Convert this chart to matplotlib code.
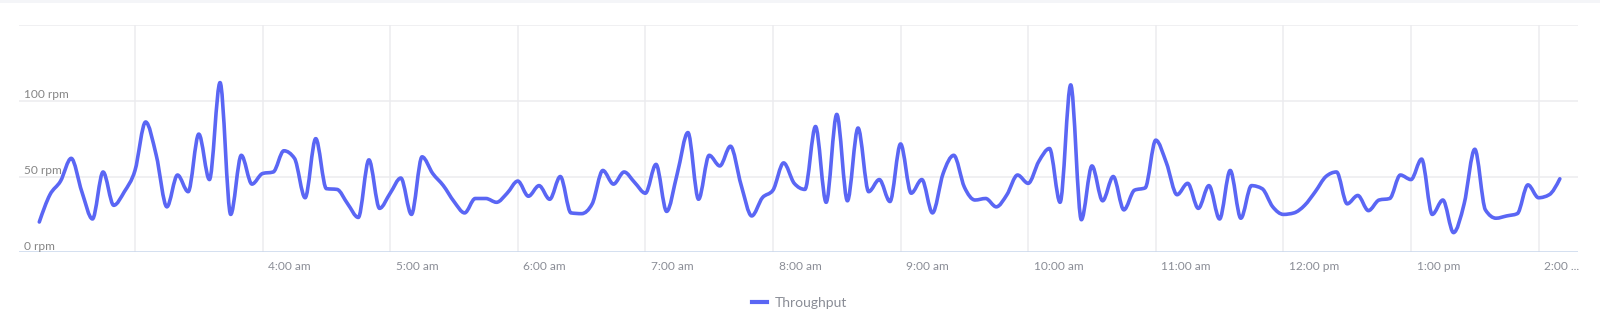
import numpy as np
import pandas as pd
import matplotlib
matplotlib.use("Agg")
import matplotlib.pyplot as plt
from matplotlib.path import Path
from matplotlib.patches import PathPatch, Rectangle
from matplotlib.lines import Line2D
from matplotlib.transforms import ScaledTranslation

# throughput (rpm), one reading every 5 minutes from 2:15 am to 2:10 pm
START = "2024-01-01 02:15"
STEP = "5min"
THROUGHPUT = [
    20, 38, 47, 62, 40, 22, 53, 31, 40,                      # 2:15 - 2:55
    54, 86, 64, 30, 51, 40, 78, 48, 112, 25, 64, 45,         # 3:00 - 3:55
    52, 53, 67, 62, 36, 75, 42, 41.5, 32, 23, 61, 29,        # 4:00 - 4:55
    39, 49, 25, 63, 52, 44, 33.5, 26, 35.5, 35.5, 33, 39,    # 5:00 - 5:55
    47, 37, 44, 35, 50, 26, 25.5, 32, 54, 45, 53, 46,        # 6:00 - 6:55
    39, 58, 27, 52, 79, 35, 64, 57, 70, 44.5, 24, 36,        # 7:00 - 7:55
    41, 59, 45.5, 41.5, 83, 33, 91, 34, 82, 40, 48, 33.5,    # 8:00 - 8:55
    71.5, 39, 48, 26, 52, 64, 43, 34.5, 35.5, 30, 38, 51,    # 9:00 - 9:55
    45.5, 60, 68.5, 33, 110.5, 21.5, 57, 34, 50, 28, 41, 42.5,  # 10:00 - 10:55
    74, 59, 38, 45.5, 29, 44, 22, 54, 22.5, 44, 42, 30,      # 11:00 - 11:55
    25, 26, 31, 40, 50, 53, 32, 37.5, 27.5, 34.5, 35.5, 51,  # 12:00 - 12:55
    48, 61.5, 25, 34.5, 13, 32, 68, 28, 22.5, 24, 25.5, 44.5,  # 1:00 - 1:55
    36, 38, 48.5,                                            # 2:00 - 2:10
]

HOUR_TICKS = [3, 4, 5, 6, 7, 8, 9, 10, 11, 12, 13, 14]
HOUR_LABELS = ["", "4:00 am", "5:00 am", "6:00 am", "7:00 am", "8:00 am",
               "9:00 am", "10:00 am", "11:00 am", "12:00 pm", "1:00 pm", "2:00 ..."]
RPM_TICKS = [0, 50, 100, 150]
RPM_LABELS = ["0 rpm", "50 rpm", "100 rpm", ""]

LINE = "#5a66f4"
GRID = "#ececef"
BASE = "#c9d7ec"
LABEL = "#8a8d96"

plt.rcParams["font.family"] = ["Lato", "DejaVu Sans"]


def monotone_path(x, y):
    """Cubic bezier path through the points, monotone in x (as d3.curveMonotoneX)."""
    x = np.asarray(x, float)
    y = np.asarray(y, float)
    h = np.diff(x)
    s = np.diff(y) / h
    t = np.zeros_like(y)
    for i in range(1, len(y) - 1):
        p = (s[i - 1] * h[i] + s[i] * h[i - 1]) / (h[i - 1] + h[i])
        t[i] = (np.sign(s[i - 1]) + np.sign(s[i])) * min(abs(s[i - 1]), abs(s[i]), 0.5 * abs(p))
    t[0] = (3 * s[0] - t[1]) / 2
    t[-1] = (3 * s[-1] - t[-2]) / 2
    verts = [(x[0], y[0])]
    codes = [Path.MOVETO]
    for i in range(len(y) - 1):
        dx = h[i] / 3
        verts += [(x[i] + dx, y[i] + dx * t[i]),
                  (x[i + 1] - dx, y[i + 1] - dx * t[i + 1]),
                  (x[i + 1], y[i + 1])]
        codes += [Path.CURVE4] * 3
    return Path(verts, codes)


times = pd.date_range(START, periods=len(THROUGHPUT), freq=STEP)
hours = times.hour + times.minute / 60.0

fig = plt.figure(figsize=(16, 3.23), dpi=100)
fig.patches.append(Rectangle((0, 1 - 3 / 323), 1, 3 / 323, transform=fig.transFigure,
                             facecolor="#f4f5f8", edgecolor="none"))
ax = fig.add_axes([0.01206, 0.2189, 0.97419, 0.7037])

ax.set_xlim(2.0933, 14.309)
ax.set_ylim(0, 150)

for h in HOUR_TICKS:
    ax.axvline(h, color=GRID, lw=1.1, zorder=1)
for v in RPM_TICKS[1:]:
    ax.axhline(v, color=GRID, lw=1.1, zorder=1)
ax.axhline(0, color=BASE, lw=1.1, zorder=2)

ax.add_patch(PathPatch(monotone_path(hours, THROUGHPUT), facecolor="none",
                       edgecolor=LINE, lw=2.6, capstyle="round", joinstyle="round",
                       zorder=3))

for v, lab in zip(RPM_TICKS, RPM_LABELS):
    ax.annotate(lab, (0, v), xycoords=("axes fraction", "data"),
                xytext=(3.5, 0.5), textcoords="offset points",
                ha="left", va="bottom", fontsize=8.6, color="#858585")

ax.set_xticks(HOUR_TICKS, HOUR_LABELS)
ax.set_yticks([])
ax.tick_params(axis="x", length=0, pad=6.5, labelsize=8.6, labelcolor=LABEL)
shift = ScaledTranslation(4 / 72, 0, fig.dpi_scale_trans)
for lbl in ax.get_xticklabels():
    lbl.set_horizontalalignment("left")
    lbl.set_transform(lbl.get_transform() + shift)

for sp in ax.spines.values():
    sp.set_visible(False)

handle = Line2D([], [], color=LINE, lw=3)
fig.legend([handle], ["Throughput"], loc="center", bbox_to_anchor=(0.4996, 0.062),
           frameon=False, fontsize=10, labelcolor=LABEL, handlelength=1.1,
           handletextpad=0.55)

fig.savefig("out.png", dpi=100)
